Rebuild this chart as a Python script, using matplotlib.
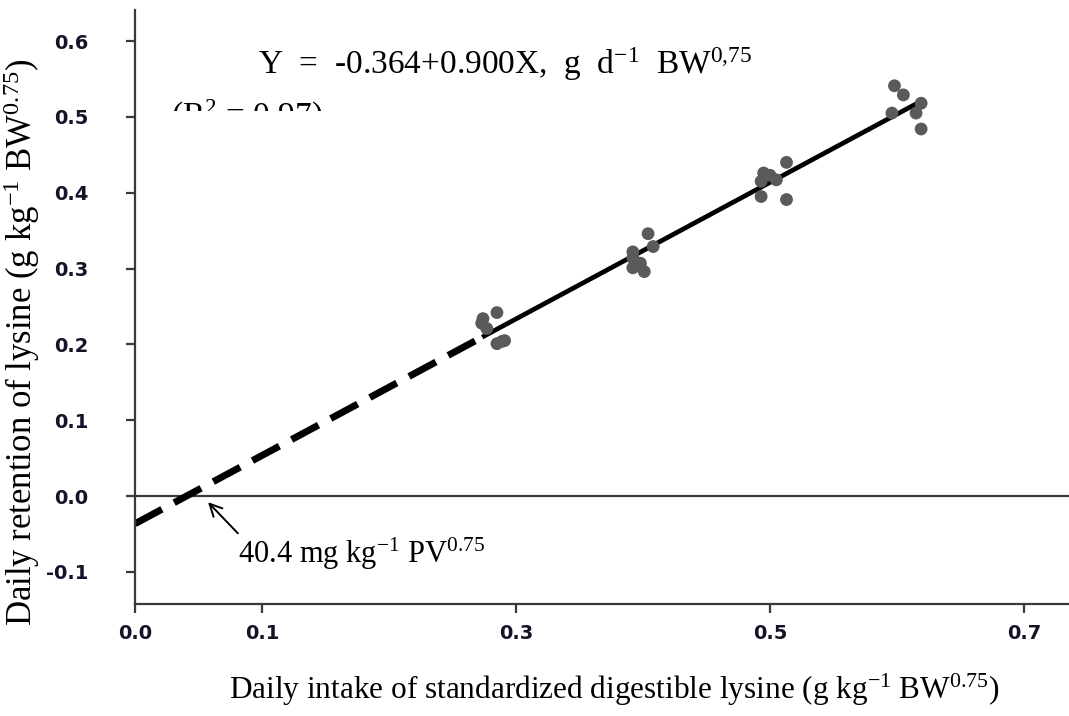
import matplotlib
matplotlib.use("Agg")
import matplotlib.pyplot as plt
from matplotlib.patches import Rectangle
import numpy as np

# ---- data ----
intake = [0.274, 0.285, 0.277, 0.273, 0.285, 0.289, 0.291,
          0.404, 0.408, 0.392, 0.392, 0.392, 0.401, 0.398,
          0.513, 0.495, 0.500, 0.505, 0.493, 0.493, 0.513,
          0.598, 0.605, 0.596, 0.619, 0.615, 0.619]
retention = [0.234, 0.242, 0.221, 0.228, 0.201, 0.204, 0.205,
             0.346, 0.329, 0.322, 0.314, 0.301, 0.296, 0.307,
             0.440, 0.426, 0.423, 0.417, 0.415, 0.395, 0.391,
             0.541, 0.529, 0.505, 0.518, 0.505, 0.484]
fit_intercept = -0.0364
fit_slope = 0.900
dashed_range = [0.0, 0.275]
solid_range = [0.275, 0.616]
x_ticks = [0.0, 0.1, 0.3, 0.5, 0.7]
x_ticklabels = ["0.0", "0.1", "0.3", "0.5", "0.7"]
y_ticks = [-0.1, 0.0, 0.1, 0.2, 0.3, 0.4, 0.5, 0.6]
y_ticklabels = ["-0.1", "0.0", "0.1", "0.2", "0.3", "0.4", "0.5", "0.6"]

plt.rcParams["mathtext.fontset"] = "custom"
plt.rcParams["mathtext.rm"] = "Liberation Serif"
plt.rcParams["mathtext.it"] = "Liberation Serif:italic"
plt.rcParams["mathtext.bf"] = "Liberation Serif:bold"

W, H = 1069, 716
fig = plt.figure(figsize=(W / 100, H / 100), dpi=100)
ax = fig.add_axes([135 / W, (H - 604) / H, (W - 135) / W, (604 - 10) / H])

ax.set_xlim(0.0, (W - 135) / 1270)
ax.set_ylim(-0.1 - (604 - 572) / 758, 0.6 + (41 - 10) / 758)

spine_col = "#3a3a3a"
for s in ["top", "right"]:
    ax.spines[s].set_visible(False)
for s in ["left", "bottom"]:
    ax.spines[s].set_color(spine_col)
    ax.spines[s].set_linewidth(1.6)

ax.axhline(0.0, color=spine_col, lw=1.6, zorder=1)

xd = np.array(dashed_range)
xs = np.array(solid_range)
ax.plot(xd, fit_intercept + fit_slope * xd, color="black", lw=5.0,
        dashes=(4.4, 2.0), solid_capstyle="butt", dash_capstyle="butt", zorder=2)
ax.plot(xs, fit_intercept + fit_slope * xs, color="black", lw=3.4, zorder=2)

ax.scatter(intake, retention, s=85, color="#5a5a5a", edgecolors="none", zorder=3)

ax.set_xticks(x_ticks)
ax.set_xticklabels(x_ticklabels)
ax.set_yticks(y_ticks)
ax.set_yticklabels(y_ticklabels)
ax.tick_params(axis="both", direction="out", length=6.5, width=1.6, color=spine_col,
               labelsize=14, labelcolor="#141428")
ax.tick_params(axis="x", pad=8)
ax.tick_params(axis="y", pad=27)
for lab in ax.get_xticklabels() + ax.get_yticklabels():
    lab.set_fontfamily("DejaVu Sans")
    lab.set_fontweight("bold")

ax.set_xlabel(r"Daily intake of standardized digestible lysine (g kg$^{-1}$ BW$^{0.75}$)",
              fontfamily="Liberation Serif", fontsize=22.5)
ax.xaxis.set_label_coords((614 - 135) / (W - 135), (604 - 690) / 594, transform=ax.transAxes)
ax.xaxis.label.set_va("center")
ax.set_ylabel(r"Daily retention of lysine (g kg$^{-1}$ BW$^{0.75}$)",
              fontfamily="Liberation Serif", fontsize=25)
ax.yaxis.set_label_coords((22 - 135) / (W - 135), (604 - 342) / 594, transform=ax.transAxes)
ax.yaxis.label.set_va("center")

ax.text(0.097, 0.556, r"Y  =  -0.364+0.900X,  g  d$^{-1}$  BW$^{0{,}75}$",
        fontfamily="Liberation Serif", fontsize=24, ha="left", va="baseline")
ax.text(0.028, 0.488, r"(R$^{2}$ = 0.97)", fontfamily="Liberation Serif",
        fontsize=24, ha="left", va="baseline", zorder=4)
fig.add_artist(Rectangle((150 / W, (H - 140) / H), 190 / W, 29 / H,
                         transform=fig.transFigure, facecolor="white",
                         edgecolor="none", zorder=10))

ax.annotate("", xy=(0.0575, -0.008), xytext=(0.081, -0.049),
            arrowprops=dict(arrowstyle="->", lw=1.4, color="black",
                            mutation_scale=22, shrinkA=0, shrinkB=0))
ax.text(0.081, -0.076, r"40.4 mg kg$^{-1}$ PV$^{0.75}$", fontfamily="Liberation Serif",
        fontsize=22, ha="left", va="center")

fig.savefig("out.png", dpi=100)
